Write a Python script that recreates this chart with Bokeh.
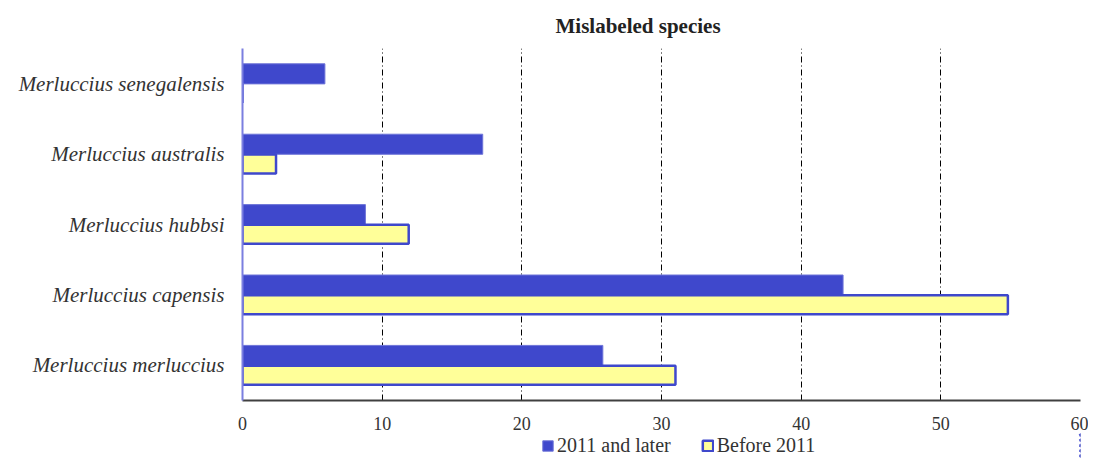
from bokeh.plotting import figure
from bokeh.models import ColumnDataSource, FactorRange, Range1d, FixedTicker, Legend, LegendItem
from bokeh.layouts import column
from bokeh.transform import dodge
from bokeh.embed import file_html
from bokeh.resources import INLINE

species = ["Merluccius merluccius", "Merluccius capensis", "Merluccius hubbsi",
           "Merluccius australis", "Merluccius senegalensis"]
after_2011 = [25.8, 43.0, 8.8, 17.2, 5.9]
before_2011 = [31.0, 54.8, 11.9, 2.4, 0.0]
x_ticks = [0, 10, 20, 30, 40, 50, 60]
series_labels = ["2011 and later", "Before 2011"]

src = ColumnDataSource(dict(species=species, after=after_2011, before=before_2011))

BLUE = "#3F48CC"
BLUE_EDGE = "#6E74D8"
YELLOW = "#FFFF99"
SERIF = "Liberation Serif"

p = figure(width=1088, height=432, y_range=FactorRange(*species), x_range=Range1d(0, 60),
           output_backend="svg", toolbar_location=None,
           min_border_left=242, min_border_right=8, min_border_top=47, min_border_bottom=32)

p.hbar(y=dodge("species", 0.14, range=p.y_range), right="after", height=0.285, left=0,
       source=src, fill_color=BLUE, line_color=BLUE_EDGE, line_width=1)
p.hbar(y=dodge("species", -0.14, range=p.y_range), right="before", height=0.27, left=0,
       source=src, fill_color=YELLOW, line_color=BLUE, line_width=2.5)

p.title.text = "Mislabeled species"
p.title.text_font = SERIF
p.title.text_font_style = "bold"
p.title.text_font_size = "21px"
p.title.text_color = "#222222"
p.title.align = "left"
p.title.offset = 313
p.title.standoff = 22

p.outline_line_color = None
p.ygrid.grid_line_color = None
p.xgrid.grid_line_color = "black"
p.xgrid.grid_line_dash = "6 3 1 3"
p.xgrid.grid_line_width = 1
p.xgrid.ticker = FixedTicker(ticks=x_ticks)

p.xaxis.ticker = FixedTicker(ticks=x_ticks)
p.xaxis.axis_line_color = "#404040"
p.xaxis.axis_line_width = 2
p.xaxis.major_tick_line_color = None
p.xaxis.minor_tick_line_color = None
p.xaxis.major_label_text_font = SERIF
p.xaxis.major_label_text_font_size = "18px"
p.xaxis.major_label_text_color = "#333333"
p.xaxis.major_label_standoff = 10

p.yaxis.axis_line_color = "#7B7FE0"
p.yaxis.axis_line_width = 2
p.yaxis.major_tick_line_color = None
p.yaxis.minor_tick_line_color = None
p.yaxis.major_label_text_font = SERIF
p.yaxis.major_label_text_font_style = "italic"
p.yaxis.major_label_text_font_size = "21px"
p.yaxis.major_label_text_color = "#333333"
p.yaxis.major_label_standoff = 12

# legend strip below the chart (its bars lie outside its visible x range)
p2 = figure(width=1088, height=26, output_backend="svg", toolbar_location=None,
            y_range=FactorRange(*species), x_range=Range1d(-2, -1),
            min_border_left=242, min_border_right=8, min_border_top=0, min_border_bottom=0)
g1 = p2.hbar(y="species", right="after", left=0, height=0.3, source=src,
             fill_color=BLUE, line_color=BLUE_EDGE, line_width=1)
g2 = p2.hbar(y="species", right="before", left=0, height=0.3, source=src,
             fill_color=YELLOW, line_color=BLUE, line_width=2.5)
p2.axis.visible = False
p2.grid.visible = False
p2.outline_line_color = None

legend = Legend(items=[LegendItem(label=series_labels[0], renderers=[g1], index=0),
                       LegendItem(label=series_labels[1], renderers=[g2], index=0)],
                orientation="horizontal", location=(299, 1),
                label_text_font=SERIF, label_text_font_size="20px", label_text_color="#333333",
                glyph_width=13, glyph_height=13, spacing=30, label_standoff=3,
                background_fill_alpha=0, border_line_color=None, padding=0, margin=0)
p2.add_layout(legend, "center")

layout = column(p, p2, spacing=0)
open("out.html", "w").write(file_html(layout, INLINE))
